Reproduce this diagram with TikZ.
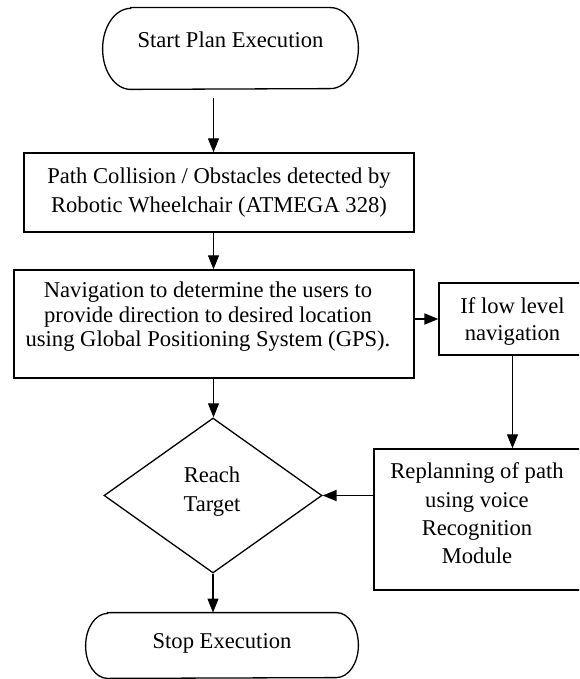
\documentclass[tikz,border=0pt]{standalone}
\usepackage{fontspec}
\setmainfont{Liberation Serif}
\usetikzlibrary{arrows.meta,shapes.geometric}
\newcommand{\offtxt}[4]{\fontsize{11.3}{#3}\selectfont\raisebox{#2}[\height][\depth]{\hspace*{#1}\begin{tabular}{@{}c@{}}#4\end{tabular}}}
\tikzset{
  boxst/.style={draw, line width=0.65pt, inner sep=0pt, rectangle},
  termst/.style={inner sep=0pt, rectangle},
  arr/.style={-{Triangle[width=5.5pt,length=7pt]}, line width=0.55pt},
  arrthick/.style={arr, line width=0.9pt},
  outline/.style={line width=0.65pt}
}
\begin{document}
\begin{tikzpicture}[x=0.5pt,y=-0.5pt]
\useasboundingbox (0,0) rectangle (579,679);
\fill[white] (0,0) rectangle (579,679);
\clip (0,0) rectangle (579,679);
\coordinate (spine) at (213.5,0);
% Start terminal
\node[termst, minimum width=127.5pt, minimum height=40.5pt] (start) at (230.5,48.5)
  {\offtxt{0pt}{3.25pt}{14pt}{Start Plan Execution}};
\draw[outline] ([xshift=14pt]start.north west) -- ([xshift=-14pt]start.north east)
  arc[start angle=90,end angle=-90,x radius=14pt,y radius=20.25pt]
  -- ([xshift=14pt]start.south west)
  arc[start angle=270,end angle=90,x radius=14pt,y radius=20.25pt] -- cycle;
% Boxes
\node[boxst, minimum width=195pt, minimum height=39.5pt] (box1) at (219,192.5)
  {\offtxt{0pt}{0pt}{14.5pt}{Path Collision / Obstacles detected by\\Robotic Wheelchair (ATMEGA 328)}};
\node[boxst, minimum width=200pt, minimum height=54pt] (box2) at (214,324)
  {\offtxt{-6pt}{3.25pt}{12.25pt}{Navigation to determine the users to\\provide direction to desired location\\using Global Positioning System (GPS).}};
\node[boxst, minimum width=73.5pt, minimum height=36pt] (box3) at (512.5,319)
  {\offtxt{0pt}{-1.25pt}{13.5pt}{If low level\\navigation}};
\node[boxst, minimum width=104pt, minimum height=70.5pt] (box4) at (478,519.5)
  {\offtxt{-1pt}{2pt}{14.15pt}{Replanning of path\\using voice\\Recognition\\Module}};
% Decision
\node[diamond, draw, outline, inner sep=0pt, minimum width=109pt, minimum height=77.5pt] (dia) at (213,495.5)
  {\offtxt{-1pt}{2pt}{14.5pt}{Reach\\Target}};
% Stop terminal
\node[termst, minimum width=136pt, minimum height=32.5pt] (stop) at (222,645.5)
  {\offtxt{0pt}{1.25pt}{14pt}{Stop Execution}};
\draw[outline] ([xshift=11pt]stop.north west) -- ([xshift=-11pt]stop.north east)
  arc[start angle=90,end angle=-90,x radius=11pt,y radius=16.25pt]
  -- ([xshift=11pt]stop.south west)
  arc[start angle=270,end angle=90,x radius=11pt,y radius=16.25pt] -- cycle;
% Connectors
\draw[arr, shorten <=4.5pt] (start.south -| spine) -- (box1.north -| spine);
\draw[arr] (box1.south -| spine) -- (box2.north -| spine);
\draw[arr] (box2.south -| spine) -- (dia.north -| spine);
\draw[arrthick] (box3.west -| box2.east) -- (box3.west);
\draw[arr] (box3.south) -- (box3.south |- box4.north);
\draw[arrthick] (dia.east -| box4.west) -- (dia.east);
\draw[arr] (dia.south) -- (dia.south |- stop.north);
\end{tikzpicture}
\end{document}
